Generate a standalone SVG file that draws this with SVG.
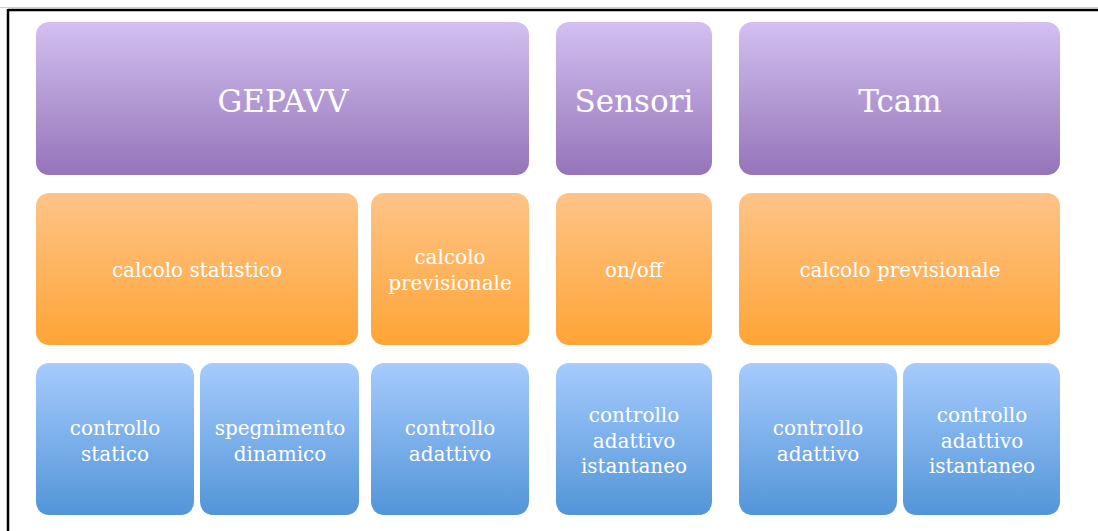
<svg xmlns="http://www.w3.org/2000/svg" width="1098" height="531" viewBox="0 0 1098 531">
<defs>
<linearGradient id="gP" x1="0" y1="0" x2="0" y2="1"><stop offset="0" stop-color="#D3C0F1"/><stop offset="1" stop-color="#9574B9"/></linearGradient>
<linearGradient id="gO" x1="0" y1="0" x2="0" y2="1"><stop offset="0" stop-color="#FEC488"/><stop offset="1" stop-color="#FFA436"/></linearGradient>
<linearGradient id="gB" x1="0" y1="0" x2="0" y2="1"><stop offset="0" stop-color="#A6CBFD"/><stop offset="1" stop-color="#5295D8"/></linearGradient>
<style>
.p{fill:url(#gP)} .o{fill:url(#gO)} .b{fill:url(#gB)}
text{font-family:"DejaVu Serif","Liberation Serif",serif;fill:#fff;text-anchor:middle}
.big{font-size:31px}
.sm{font-size:20px}
</style>
</defs>
<rect width="1098" height="531" fill="#fff"/>
<line x1="0" y1="7.5" x2="1098" y2="7.5" stroke="#d0d0d0" stroke-width="1"/>
<line x1="8" y1="10" x2="1098" y2="10" stroke="#000" stroke-width="2.5"/>
<line x1="8" y1="9" x2="8" y2="531" stroke="#000" stroke-width="2.5"/>
<g id="gepavv"><rect class="p" x="36" y="22" width="493" height="153" rx="13"/><text class="big" x="283" y="112">GEPAVV</text></g>
<g id="sensori"><rect class="p" x="556" y="22" width="156" height="153" rx="13"/><text class="big" x="634" y="112">Sensori</text></g>
<g id="tcam"><rect class="p" x="739" y="22" width="321" height="153" rx="13"/><text class="big" x="900" y="112">Tcam</text></g>
<g id="calcolo-statistico"><rect class="o" x="36" y="193" width="322" height="152" rx="13"/><text class="sm" x="197" y="277">calcolo statistico</text></g>
<g id="calcolo-previsionale-1"><rect class="o" x="371" y="193" width="158" height="152" rx="13"/><text class="sm" x="450" y="264">calcolo</text><text class="sm" x="450" y="290">previsionale</text></g>
<g id="onoff"><rect class="o" x="556" y="193" width="156" height="152" rx="13"/><text class="sm" x="634" y="277">on/off</text></g>
<g id="calcolo-previsionale-2"><rect class="o" x="739" y="193" width="321" height="152" rx="13"/><text class="sm" x="900" y="277">calcolo previsionale</text></g>
<g id="controllo-statico"><rect class="b" x="36" y="363" width="158" height="152" rx="13"/><text class="sm" x="115" y="435">controllo</text><text class="sm" x="115" y="461">statico</text></g>
<g id="spegnimento-dinamico"><rect class="b" x="200" y="363" width="159" height="152" rx="13"/><text class="sm" x="280" y="435">spegnimento</text><text class="sm" x="280" y="461">dinamico</text></g>
<g id="controllo-adattivo-1"><rect class="b" x="371" y="363" width="158" height="152" rx="13"/><text class="sm" x="450" y="435">controllo</text><text class="sm" x="450" y="461">adattivo</text></g>
<g id="controllo-adattivo-istantaneo-1"><rect class="b" x="556" y="363" width="156" height="152" rx="13"/><text class="sm" x="634" y="422">controllo</text><text class="sm" x="634" y="448">adattivo</text><text class="sm" x="634" y="473">istantaneo</text></g>
<g id="controllo-adattivo-2"><rect class="b" x="739" y="363" width="158" height="152" rx="13"/><text class="sm" x="818" y="435">controllo</text><text class="sm" x="818" y="461">adattivo</text></g>
<g id="controllo-adattivo-istantaneo-2"><rect class="b" x="903" y="363" width="157" height="152" rx="13"/><text class="sm" x="982" y="422">controllo</text><text class="sm" x="982" y="448">adattivo</text><text class="sm" x="982" y="473">istantaneo</text></g>
<g id="connectors"></g>
</svg>
